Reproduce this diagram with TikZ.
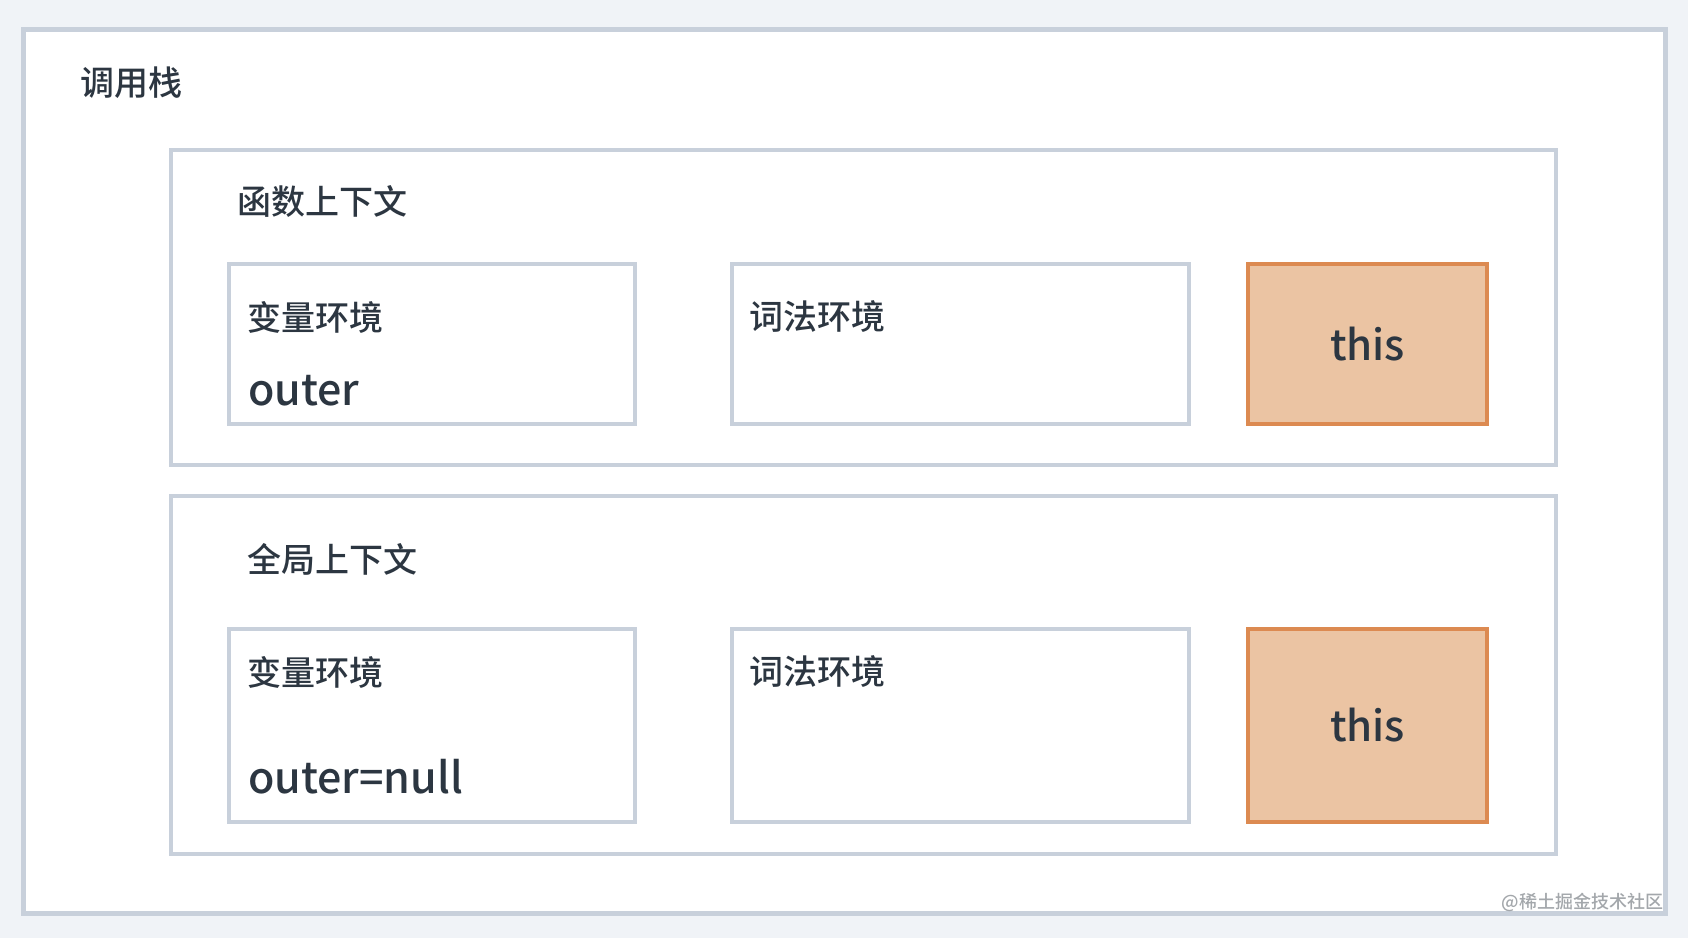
\documentclass[tikz,border=0pt]{standalone}
\usepackage{fontspec}
\setmainfont{Noto Sans CJK SC}[UprightFont=* Medium]
\usetikzlibrary{positioning}
\definecolor{pagebg}{HTML}{F0F3F7}
\definecolor{framegray}{HTML}{C8D0DB}
\definecolor{inkdark}{HTML}{2C3641}
\definecolor{thisfill}{HTML}{EBC4A3}
\definecolor{thisline}{HTML}{DC8A51}
\definecolor{markgray}{HTML}{A3A7AB}
\begin{document}
\begin{tikzpicture}[x=1pt,y=-1pt,
    every node/.style={inner sep=0pt,outer sep=0pt},
    frame box/.style={draw=framegray,line width=#1,fill=white,anchor=north west},
    frame box/.default=4pt,
    this box/.style={draw=thisline,line width=4.5pt,fill=thisfill,anchor=north west,
                     text=inkdark,font=\fontsize{42}{50}\selectfont},
    title text/.style={anchor=west,text=inkdark,font=\fontsize{34}{40}\selectfont},
    value text/.style={anchor=west,text=inkdark,font=\fontsize{43}{52}\selectfont}]

  % page and frames
  \fill[pagebg] (0,0) rectangle (1688,938);
  \useasboundingbox (0,0) rectangle (1688,938);
  \node[frame box=5pt,minimum width=1642pt,minimum height=884pt] (stack) at (23,29) {};
  \node[frame box,minimum width=1385pt,minimum height=315pt] (fnctx) at (171,150) {};
  \node[frame box,minimum width=1385pt,minimum height=358pt] (globctx) at (171,496) {};

  % function context
  \node[frame box,minimum width=406pt,minimum height=160pt] (fnvar) at (229,264) {};
  \node[frame box,minimum width=457pt,minimum height=160pt] (fnlex) at (732,264) {};
  \node[this box,minimum width=239pt,minimum height=160pt] (fnthis) at (1248,264) {this};

  % global context
  \node[frame box,minimum width=406pt,minimum height=193pt] (globvar) at (229,629) {};
  \node[frame box,minimum width=457pt,minimum height=193pt] (globlex) at (732,629) {};
  \node[this box,minimum width=239pt,minimum height=193pt] (globthis) at (1248,629) {this};

  % labels
  \node[title text] (stacklbl) at (80,83) {调用栈};
  \node[title text] (fnlbl) at (237,201) {函数上下文};
  \node[title text] (globlbl) at (247,559) {全局上下文};
  \node[title text] (fnvarlbl) at (247,317) {变量环境};
  \node[value text] (fnouter) at (248,391) {outer};
  \node[title text] (fnlexlbl) at (749,317) {词法环境};
  \node[title text] (globvarlbl) at (247,672) {变量环境};
  \node[value text] (globouter) at (248,777) {outer=null};
  \node[title text] (globlexlbl) at (749,671) {词法环境};

  \node[anchor=east,text=markgray,font=\fontsize{18}{22}\selectfont] (mark) at (1663,902) {@稀土掘金技术社区};
\end{tikzpicture}
\end{document}
